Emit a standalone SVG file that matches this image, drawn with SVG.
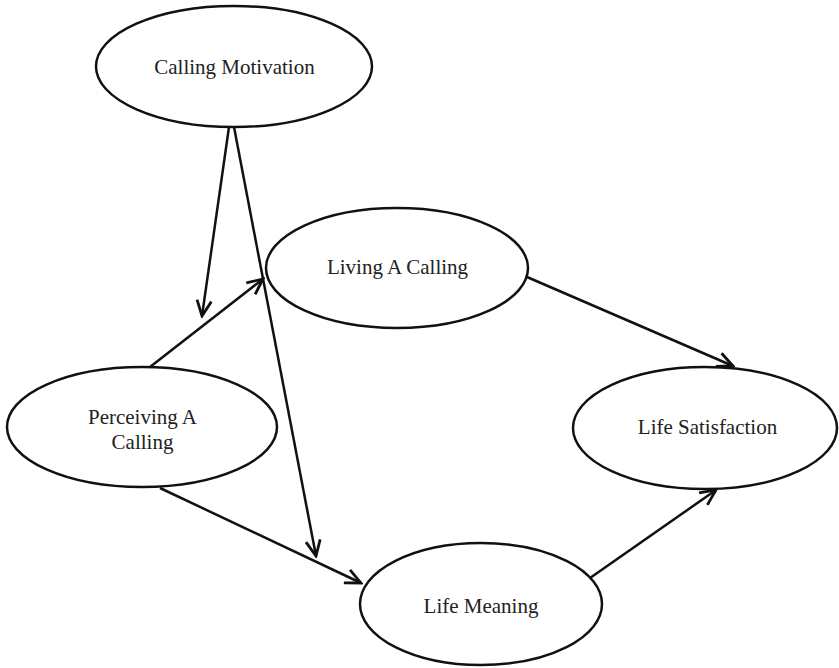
<svg xmlns="http://www.w3.org/2000/svg" width="839" height="668" viewBox="0 0 839 668">
  <defs>
    <style>
      .node ellipse { fill: #ffffff; stroke: #111111; stroke-width: 2.5; }
      .node text { font-family: "Liberation Serif", "Times New Roman", serif; font-size: 21px; fill: #222222; text-anchor: middle; }
      .edge { fill: none; stroke: #111111; stroke-width: 2.5; marker-end: url(#arrow); }
    </style>
    <marker id="arrow" markerUnits="userSpaceOnUse" markerWidth="20" markerHeight="20" viewBox="-16 -8 18 16" refX="0" refY="0" orient="auto">
      <path d="M-14,-6.5 L0,0 L-14,6.5" fill="none" stroke="#111111" stroke-width="2.5" stroke-linejoin="miter"/>
    </marker>
  </defs>

  <rect width="839" height="668" fill="#ffffff"/>

  <!-- connectors -->
  <g id="connectors">
    <line class="edge" x1="229" y1="127" x2="202" y2="316"/>
    <line class="edge" x1="234" y1="127" x2="316" y2="556"/>
    <line class="edge" x1="150" y1="367" x2="263" y2="279"/>
    <line class="edge" x1="160" y1="488" x2="361" y2="583"/>
    <line class="edge" x1="527" y1="277" x2="733" y2="366"/>
    <line class="edge" x1="590" y1="578" x2="716" y2="490"/>
  </g>

  <!-- nodes -->
  <g id="calling-motivation" class="node">
    <ellipse cx="234" cy="66.5" rx="138" ry="60.5"/>
    <text x="234.5" y="74">Calling Motivation</text>
  </g>
  <g id="living-a-calling" class="node">
    <ellipse cx="397" cy="268" rx="131" ry="60"/>
    <text x="397.5" y="274">Living A Calling</text>
  </g>
  <g id="perceiving-a-calling" class="node">
    <ellipse cx="142" cy="427" rx="135" ry="60"/>
    <text x="142.5" y="424">Perceiving A</text>
    <text x="142.5" y="449">Calling</text>
  </g>
  <g id="life-satisfaction" class="node">
    <ellipse cx="705" cy="428" rx="132" ry="61"/>
    <text x="707.5" y="434">Life Satisfaction</text>
  </g>
  <g id="life-meaning" class="node">
    <ellipse cx="481" cy="604" rx="121" ry="61"/>
    <text x="481" y="613">Life Meaning</text>
  </g>
</svg>
